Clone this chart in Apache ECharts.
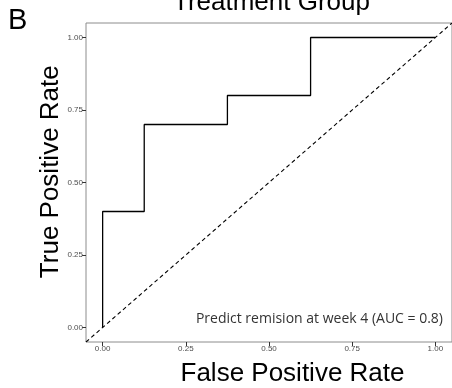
<!DOCTYPE html>
<html>
<head>
<meta charset="utf-8">
<script src="https://cdn.jsdelivr.net/npm/echarts@6/dist/echarts.min.js"></script>
<style>html,body{margin:0;padding:0;background:#fff;}#c{width:452px;height:388px;}</style>
</head>
<body>
<div id="c"></div>
<script>
// ROC curve points (false positive rate, true positive rate)
var fpr = [0, 0, 0.125, 0.125, 0.375, 0.375, 0.625, 0.625, 1];
var tpr = [0, 0.4, 0.4, 0.7, 0.7, 0.8, 0.8, 1, 1];
// reference diagonal across the expanded panel
var diagX = [-0.05, 1.05];
var diagY = [-0.05, 1.05];
var xTicks = [0, 0.25, 0.5, 0.75, 1];
var yTicks = [0, 0.25, 0.5, 0.75, 1];
var panelTitle = "Treatment Group";
var panelTag = "B";
var xTitle = "False Positive Rate";
var yTitle = "True Positive Rate";
var note = "Predict remision at week 4 (AUC = 0.8)";

var chart = echarts.init(document.getElementById('c'), null, {renderer: 'canvas'});
function zip(a, b) { return a.map(function (v, i) { return [v, b[i]]; }); }
var tickStyle = {show: true, length: 4, lineStyle: {color: '#333333', width: 1}};
var labelStyle = {fontSize: 8, color: '#4d4d4d', fontFamily: 'Liberation Sans', margin: 3,
  formatter: function (v) { return Number(v).toFixed(2); }};
chart.setOption({
  animation: false,
  backgroundColor: '#ffffff',
  grid: {left: 86, top: 23, width: 367, height: 319, show: true, borderColor: '#8c8c8c', borderWidth: 1, backgroundColor: 'transparent'},
  xAxis: {
    type: 'value', min: -0.05, max: 1.05,
    axisLine: {show: false, onZero: false},
    splitLine: {show: false},
    axisTick: Object.assign({customValues: xTicks}, tickStyle),
    axisLabel: Object.assign({customValues: xTicks}, labelStyle)
  },
  yAxis: {
    type: 'value', min: -0.05, max: 1.05,
    axisLine: {show: false, onZero: false},
    splitLine: {show: false},
    axisTick: Object.assign({customValues: yTicks}, tickStyle),
    axisLabel: Object.assign({customValues: yTicks}, labelStyle)
  },
  series: [
    {type: 'line', data: zip(diagX, diagY), symbol: 'none', silent: true,
     lineStyle: {color: '#000', width: 1.1, type: [4, 3]}},
    {type: 'line', data: zip(fpr, tpr), symbol: 'none', silent: true,
     lineStyle: {color: '#000', width: 1.3}}
  ],
  graphic: [
    {type: 'text', x: 271.5, y: 3, style: {text: panelTitle, font: '26px "Liberation Sans"', fill: '#000', textAlign: 'center', textVerticalAlign: 'middle'}},
    {type: 'text', x: 8, y: 21, style: {text: panelTag, font: '29px "Liberation Sans"', fill: '#000', textAlign: 'left', textVerticalAlign: 'middle'}},
    {type: 'text', x: 292.5, y: 374, style: {text: xTitle, font: '26px "Liberation Sans"', fill: '#000', textAlign: 'center', textVerticalAlign: 'middle'}},
    {type: 'text', x: 51, y: 171.7, rotation: Math.PI / 2, style: {text: yTitle, font: '26px "Liberation Sans"', fill: '#000', textAlign: 'center', textVerticalAlign: 'middle'}},
    {type: 'text', x: 443, y: 319, style: {text: note, font: '14px "Open Sans"', fill: '#333333', textAlign: 'right', textVerticalAlign: 'middle'}}
  ]
});
</script>
</body>
</html>
